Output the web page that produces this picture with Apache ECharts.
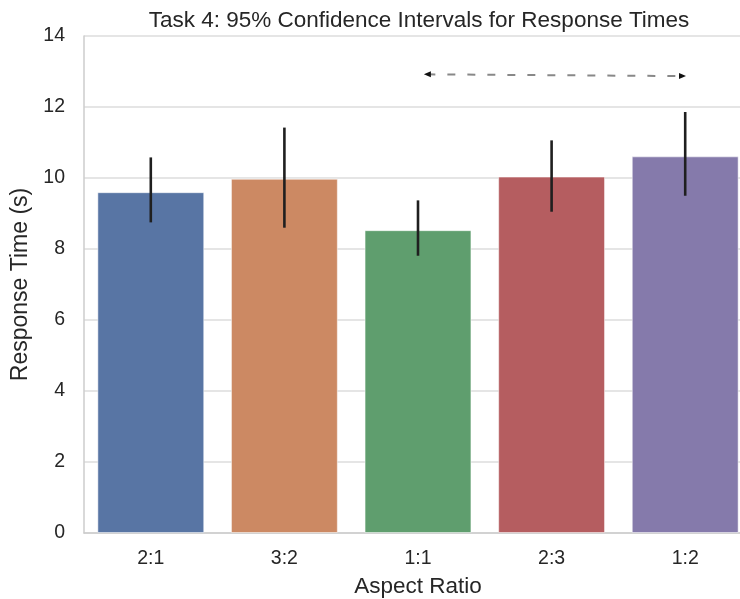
<!DOCTYPE html>
<html>
<head>
<meta charset="utf-8">
<script src="https://cdn.jsdelivr.net/npm/echarts@6/dist/echarts.min.js"></script>
<style>
  html, body { margin: 0; padding: 0; background: #ffffff; }
  #chart { width: 740px; height: 599px; }
</style>
</head>
<body>
<div id="chart"></div>
<script>
// Mean response time per aspect ratio, with 95% confidence interval bounds
const categories = ['2:1', '3:2', '1:1', '2:3', '1:2'];
const meanTimes = [9.60, 9.98, 8.53, 10.04, 10.61];
const ciLow = [8.75, 8.60, 7.81, 9.05, 9.50];
const ciHigh = [10.58, 11.42, 9.37, 11.06, 11.86];
const barColors = ['#5875a4', '#cc8963', '#5f9e6e', '#b55d60', '#857aab'];
const yTicks = [0, 2, 4, 6, 8, 10, 12, 14];

// Dashed double-headed annotation arrow (x in category units, y in seconds)
const arrowX = [2.07, 3.98];
const arrowY = [12.92, 12.87];

const FONT = '"Liberation Sans", Arial, sans-serif';

const chart = echarts.init(document.getElementById('chart'), null, { renderer: 'canvas' });

const option = {
  animation: false,
  backgroundColor: '#ffffff',
  title: {
    text: 'Task 4: 95% Confidence Intervals for Response Times',
    left: 414,
    top: 4,
    textAlign: 'center',
    textStyle: { fontFamily: FONT, fontSize: 22.5, fontWeight: 'normal', color: '#262626' }
  },
  grid: {
    left: 84, top: 36, width: 668, height: 497,
    containLabel: false,
    outerBoundsMode: 'none'
  },
  xAxis: [
    {
      type: 'category',
      data: categories,
      boundaryGap: true,
      name: 'Aspect Ratio',
      nameLocation: 'middle',
      nameGap: 42,
      nameTextStyle: { fontFamily: FONT, fontSize: 22.5, color: '#262626' },
      axisLine: { show: true, lineStyle: { color: '#cccccc', width: 1.5 } },
      axisTick: { show: false },
      axisLabel: { fontFamily: FONT, fontSize: 19.5, color: '#262626', margin: 16 },
      splitLine: { show: false }
    },
    {
      type: 'value',
      min: -0.5,
      max: 4.5,
      show: false
    }
  ],
  yAxis: {
    type: 'value',
    min: 0,
    max: 14,
    interval: 2,
    name: 'Response Time (s)',
    nameLocation: 'middle',
    nameGap: 47,
    nameTextStyle: { fontFamily: FONT, fontSize: 23, color: '#262626' },
    axisLine: { show: true, onZero: false, lineStyle: { color: '#cccccc', width: 1.5 } },
    axisTick: { show: false },
    axisLabel: {
      fontFamily: FONT, fontSize: 19.5, color: '#262626', margin: 19,
      formatter: v => (yTicks.indexOf(v) >= 0 ? String(v) : '')
    },
    splitLine: { show: true, lineStyle: { color: '#dddddd', width: 1.5 } }
  },
  series: [
    {
      type: 'bar',
      xAxisIndex: 0,
      barWidth: '80%',
      data: meanTimes.map((v, i) => ({
        value: v,
        itemStyle: { color: barColors[i], borderColor: 'rgba(255,255,255,0.5)', borderWidth: 1 }
      })),
      z: 2
    },
    {
      type: 'custom',
      xAxisIndex: 0,
      z: 3,
      data: categories.map((c, i) => [i, ciLow[i], ciHigh[i]]),
      renderItem: function (params, api) {
        const lo = api.coord([api.value(0), api.value(1)]);
        const hi = api.coord([api.value(0), api.value(2)]);
        return {
          type: 'line',
          shape: { x1: lo[0], y1: lo[1], x2: hi[0], y2: hi[1] },
          style: { stroke: '#1f1f1f', lineWidth: 2.6 }
        };
      }
    },
    {
      type: 'line',
      xAxisIndex: 1,
      z: 4,
      data: arrowX.map((x, i) => [x, arrowY[i]]),
      showSymbol: true,
      symbol: 'triangle',
      symbolSize: [6, 7],
      symbolRotate: function (value, params) { return params.dataIndex === 0 ? 90 : -90; },
      itemStyle: { color: '#111111' },
      lineStyle: { color: '#888888', width: 2, type: [8, 12] },
      silent: true
    }
  ]
};

chart.setOption(option);
</script>
</body>
</html>
